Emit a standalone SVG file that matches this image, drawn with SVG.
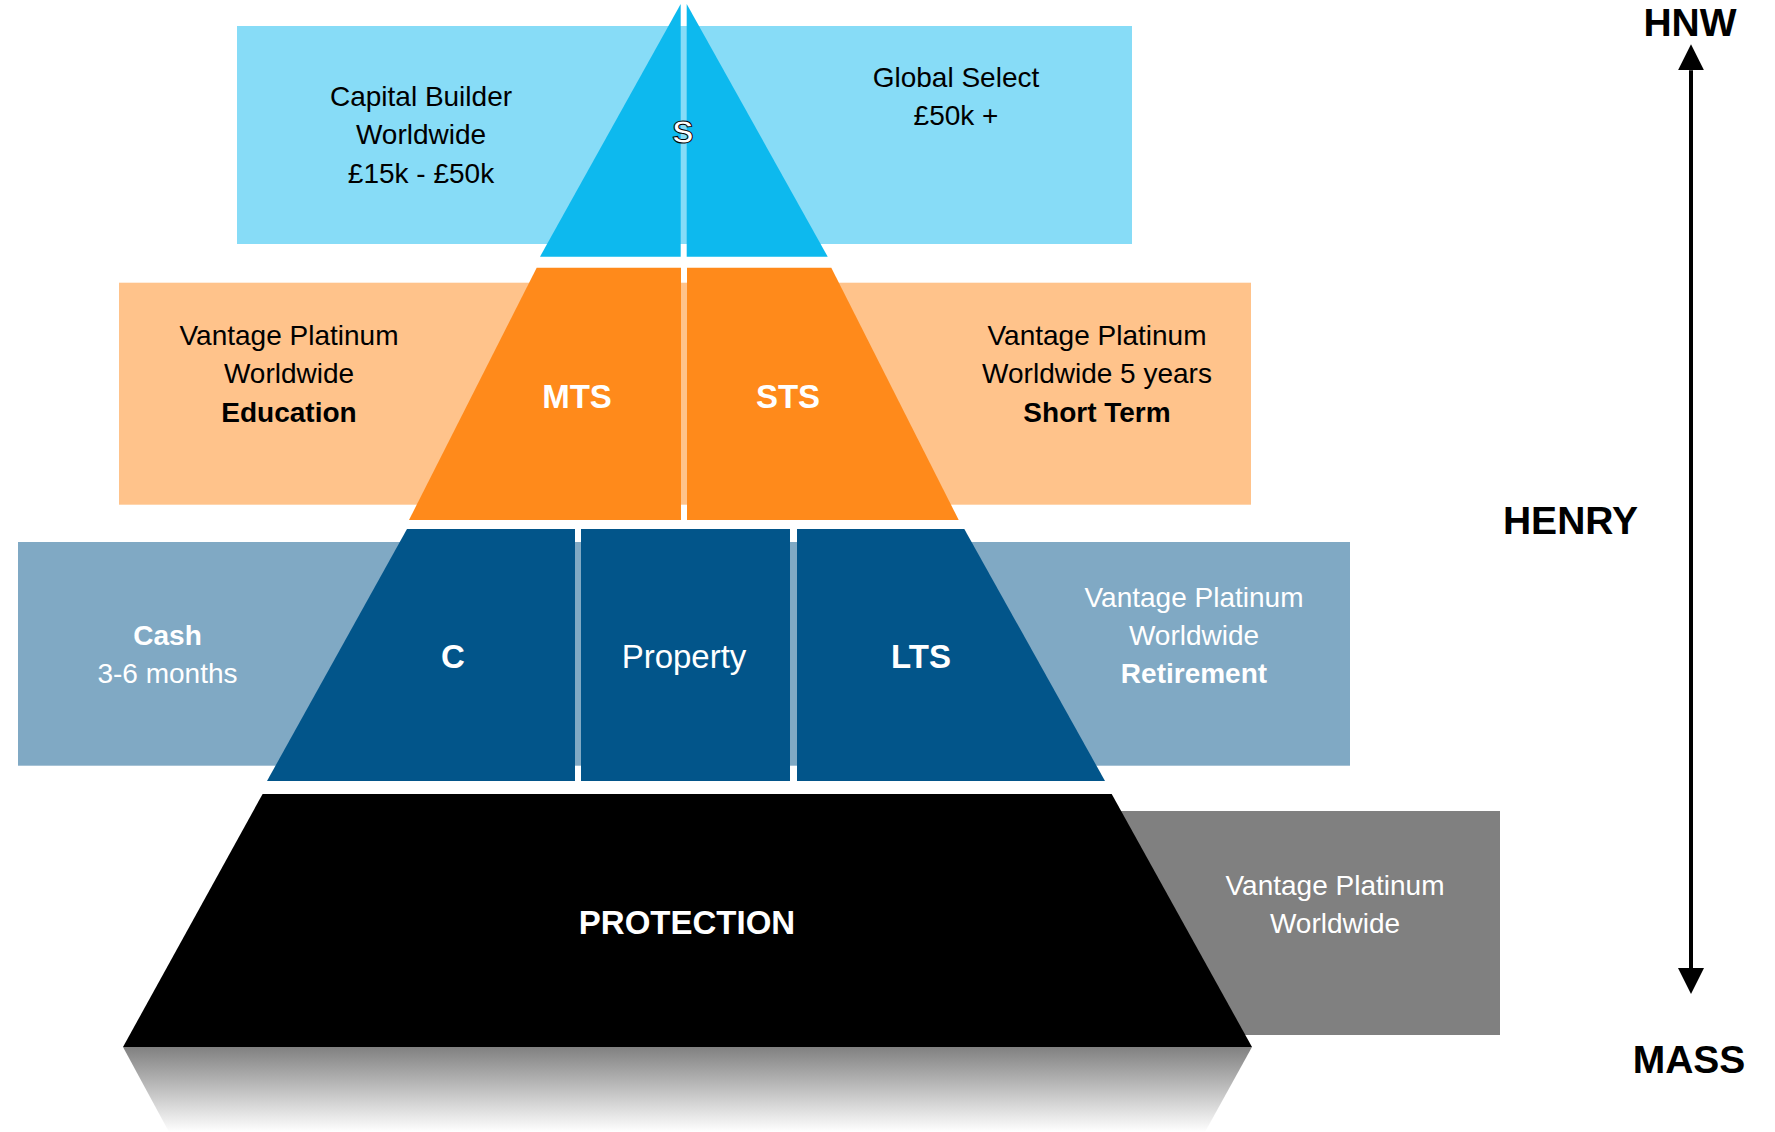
<svg xmlns="http://www.w3.org/2000/svg" width="1775" height="1132" viewBox="0 0 1775 1132">
<style>
  text { font-family: "Liberation Sans", Arial, sans-serif; text-anchor: middle; }
  .lbl { font-size: 28px; fill: #000; }
  .wlbl { font-size: 28px; fill: #fff; }
  .b { font-weight: bold; }
  .big { font-size: 33px; font-weight: bold; fill: #fff; }
  .axis { font-size: 39px; font-weight: bold; fill: #000; }
</style>
<defs>
  <linearGradient id="refl" x1="0" y1="0" x2="0" y2="1">
    <stop offset="0" stop-color="#808080"/>
    <stop offset="1" stop-color="#ffffff"/>
  </linearGradient>
  <marker id="ah" viewBox="0 0 26 26" refX="0" refY="13" markerWidth="26" markerHeight="26" markerUnits="userSpaceOnUse" orient="auto-start-reverse">
    <path d="M0,0 L26,13 L0,26 z" fill="#000"/>
  </marker>
</defs>
<rect width="1775" height="1132" fill="#fff"/>

<g id="band-top">
  <rect x="237" y="26" width="895" height="218" fill="#87DCF7"/>
  <polygon points="680.7,4 680.7,256.7 540,256.7" fill="#0DB9EE"/>
  <polygon points="686.7,4 827.7,256.7 686.7,256.7" fill="#0DB9EE"/>
  <text x="421" y="106" class="lbl">Capital Builder</text>
  <text x="421" y="144" class="lbl">Worldwide</text>
  <text x="421" y="182.5" class="lbl">£15k - £50k</text>
  <text x="956" y="87" class="lbl">Global Select</text>
  <text x="956" y="125" class="lbl">£50k +</text>
  <text x="683" y="142.5" font-size="32" font-weight="bold" fill="#fff" stroke="#000" stroke-width="1">S</text>
</g>

<g id="band-orange">
  <rect x="119" y="282.7" width="1132" height="222" fill="#FFC38B"/>
  <polygon points="536.7,267.7 681,267.7 681,520 409,520" fill="#FF8A1B"/>
  <polygon points="687,267.7 831.3,267.7 958.7,520 687,520" fill="#FF8A1B"/>
  <text x="289" y="345" class="lbl">Vantage Platinum</text>
  <text x="289" y="383" class="lbl">Worldwide</text>
  <text x="289" y="422" class="lbl b">Education</text>
  <text x="1097" y="345" class="lbl">Vantage Platinum</text>
  <text x="1097" y="383" class="lbl">Worldwide 5 years</text>
  <text x="1097" y="422" class="lbl b">Short Term</text>
  <text x="577" y="408" class="big">MTS</text>
  <text x="788" y="408" class="big">STS</text>
</g>

<g id="band-blue">
  <rect x="18" y="542" width="1332" height="223.7" fill="#80A9C4"/>
  <polygon points="407,529 575,529 575,781 267,781" fill="#02558A"/>
  <polygon points="581,529 790,529 790,781 581,781" fill="#02558A"/>
  <polygon points="797,529 964.3,529 1105,781 797,781" fill="#02558A"/>
  <text x="167.5" y="645" class="wlbl b">Cash</text>
  <text x="167.5" y="683" class="wlbl">3-6 months</text>
  <text x="1194" y="607" class="wlbl">Vantage Platinum</text>
  <text x="1194" y="645" class="wlbl">Worldwide</text>
  <text x="1194" y="683" class="wlbl b">Retirement</text>
  <text x="453" y="668" class="big">C</text>
  <text x="684" y="668" font-size="33" fill="#fff">Property</text>
  <text x="921" y="668" class="big">LTS</text>
</g>

<g id="band-protection">
  <rect x="1000" y="811" width="500" height="224" fill="#808080"/>
  <polygon points="123,1047 1252,1047 1205,1132 169,1132" fill="url(#refl)"/>
  <polygon points="262.6,794 1111.7,794 1252,1047 123,1047" fill="#000"/>
  <text x="687" y="934" class="big" font-size="31">PROTECTION</text>
  <text x="1335" y="895" class="wlbl">Vantage Platinum</text>
  <text x="1335" y="933" class="wlbl">Worldwide</text>
</g>

<g id="axis-labels">
  <text x="1690" y="36" class="axis" font-size="38">HNW</text>
  <text x="1570.5" y="534" class="axis">HENRY</text>
  <text x="1689" y="1072.7" class="axis">MASS</text>
</g>

<g id="connectors">
  <line x1="1691" y1="70.3" x2="1691" y2="968" stroke="#000" stroke-width="4" marker-start="url(#ah)" marker-end="url(#ah)"/>
</g>
</svg>
